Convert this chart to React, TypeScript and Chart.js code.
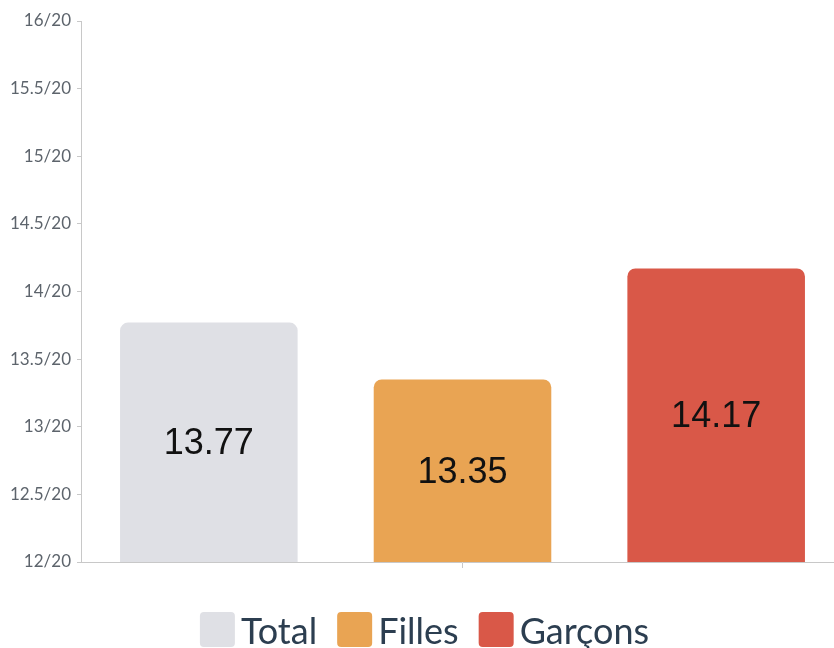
import React, { useEffect, useRef } from "react";
import { Chart, registerables } from "chart.js";

Chart.register(...registerables);

const categories: string[] = [""];
const seriesLabels: string[] = ["Total", "Filles", "Garçons"];
const totalValues: number[] = [13.77];
const fillesValues: number[] = [13.35];
const garconsValues: number[] = [14.17];
const seriesColors: string[] = ["#dfe0e5", "#e9a453", "#d95848"];
const yMin = 12;
const yMax = 16;
const yStep = 0.5;

const overlayPlugin = {
  id: "overlayLabelsLegend",
  afterDraw(chart: any) {
    const ctx = chart.ctx;
    const yScale = chart.scales.y;
    // value labels centered in bars
    chart.data.datasets.forEach((ds: any, i: number) => {
      const meta = chart.getDatasetMeta(i);
      (ds.data as number[]).forEach((raw: number, j: number) => {
        const el: any = meta.data[j];
        if (!el) return;
        const v = Number(raw);
        const top = yScale.getPixelForValue(v);
        const base = yScale.getPixelForValue(yScale.min);
        ctx.save();
        ctx.font = "36px 'Liberation Sans', Arial, sans-serif";
        ctx.fillStyle = "#111111";
        ctx.textAlign = "center";
        ctx.textBaseline = "middle";
        ctx.fillText(v.toFixed(2), el.x, (top + base) / 2 + 2);
        ctx.restore();
      });
    });

    // legend
    const box = 35;
    const gap = 6;
    const spacing = 20;
    ctx.save();
    ctx.font = "36px Lato, sans-serif";
    const items = chart.data.datasets.map((ds: any) => ({
      text: ds.label,
      color: ds.backgroundColor,
      w: ctx.measureText(ds.label).width,
    }));
    const total =
      items.reduce((s: number, it: any) => s + box + gap + it.w, 0) +
      spacing * (items.length - 1);
    let x = (chart.width - total) / 2 + 3;
    const boxTop = chart.height - 36;
    const baseline = chart.height - 4;
    items.forEach((it: any) => {
      ctx.fillStyle = it.color;
      ctx.beginPath();
      if (ctx.roundRect) ctx.roundRect(x, boxTop, box, box, 4);
      else ctx.rect(x, boxTop, box, box);
      ctx.fill();
      ctx.fillStyle = "#2c3e50";
      ctx.textAlign = "left";
      ctx.textBaseline = "alphabetic";
      ctx.fillText(it.text, x + box + gap, baseline);
      x += box + gap + it.w + spacing;
    });
    ctx.restore();
  },
};

export default function App() {
  const ref = useRef<HTMLCanvasElement | null>(null);
  useEffect(() => {
    if (!ref.current) return;
    const values = [totalValues, fillesValues, garconsValues];
    const chart = new Chart(ref.current, {
      type: "bar",
      data: {
        labels: categories,
        datasets: seriesLabels.map((label, i) => ({
          label,
          data: values[i],
          backgroundColor: seriesColors[i],
          borderRadius: 8,
          borderSkipped: "start",
          categoryPercentage: 1.0,
          barPercentage: 0.7,
        })),
      },
      options: {
        animation: false,
        responsive: false,
        layout: { padding: { top: 21, left: 4, right: 0, bottom: 80 } },
        plugins: {
          legend: { display: false },
          tooltip: { enabled: false },
        },
        scales: {
          x: {
            grid: {
              drawOnChartArea: false,
              offset: false,
              tickLength: 6,
              color: "#c8c8c8",
            },
            border: { color: "#c8c8c8" },
            ticks: { display: false },
          },
          y: {
            min: yMin,
            max: yMax,
            grid: { drawOnChartArea: false, tickLength: 5, color: "#c8c8c8" },
            border: { color: "#c8c8c8" },
            ticks: {
              stepSize: yStep,
              padding: 6,
              color: "#5d646c",
              font: { family: "Lato", size: 17 },
              callback: (v: any) => `${v}/20`,
            },
          },
        },
      },
      plugins: [overlayPlugin],
    });
    return () => chart.destroy();
  }, []);
  return (
    <div
      style={{
        position: "absolute",
        left: 0,
        top: 0,
        width: 834,
        height: 648,
        overflow: "hidden",
        background: "#fff",
      }}
    >
      <canvas ref={ref} width={843} height={648} style={{ display: "block" }} />
    </div>
  );
}
